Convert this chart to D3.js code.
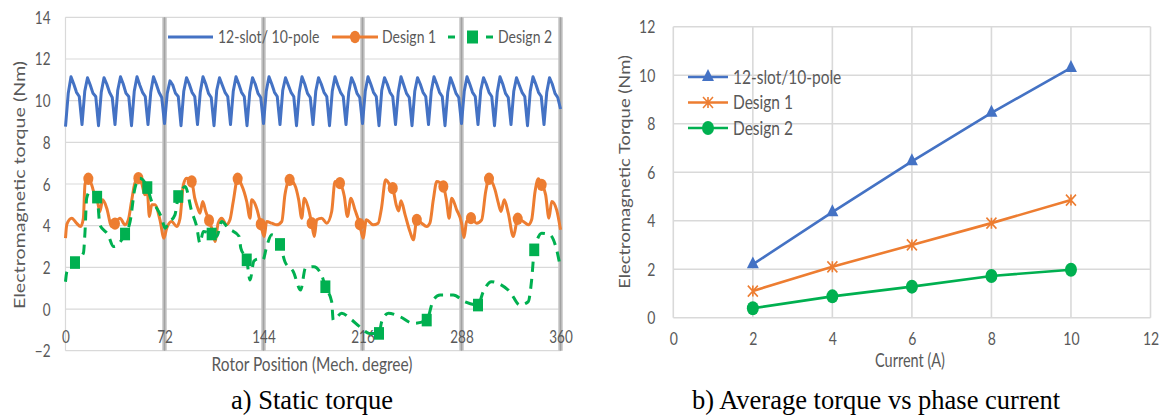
<!DOCTYPE html>
<html>
<head>
<meta charset="utf-8">
<script src="https://cdn.jsdelivr.net/npm/d3@7"></script>
<style>
  body { margin: 0; background: #fff; }
  svg { display: block; }
</style>
</head>
<body>
<svg id="chart" width="1165" height="415"></svg>
<script>
/**
 * DATA
 * */
// a) static torque, 12-slot/10-pole sampled every 2 mech. degrees
const positionStep = 2;
const baselineTorque = [
  8.75, 10.35, 11.15, 10.8, 10.4, 10.2,
  8.85, 10.45, 11.1, 10.75, 10.35, 10.2,
  8.8, 10.4, 11.1, 10.8, 10.4, 10.15,
  8.85, 10.5, 11.15, 10.8, 10.35, 10.2,
  8.8, 10.45, 11.15, 10.75, 10.4, 10.2,
  8.85, 10.4, 11.15, 10.8, 10.4, 10.15,
  8.9, 10.35, 10.95, 10.75, 10.35, 10.2,
  8.8, 10.45, 11.1, 10.8, 10.4, 10.2,
  8.85, 10.4, 11.15, 10.8, 10.35, 10.15,
  8.8, 10.5, 11.1, 10.75, 10.4, 10.2,
  8.85, 10.45, 11.15, 10.8, 10.4, 10.2,
  8.8, 10.4, 11.1, 10.8, 10.35, 10.15,
  8.9, 10.45, 11.15, 10.8, 10.4, 10.2,
  8.85, 10.5, 11.1, 10.75, 10.4, 10.2,
  8.8, 10.4, 11.15, 10.8, 10.35, 10.15,
  8.85, 10.45, 11.1, 10.8, 10.4, 10.2,
  8.8, 10.45, 11.15, 10.75, 10.4, 10.2,
  8.85, 10.4, 11.1, 10.8, 10.35, 10.15,
  8.9, 10.45, 11.15, 10.8, 10.4, 10.2,
  8.8, 10.5, 11.1, 10.8, 10.4, 10.2,
  8.85, 10.4, 11.15, 10.75, 10.35, 10.15,
  8.8, 10.45, 11.1, 10.8, 10.4, 10.2,
  8.85, 10.45, 11.15, 10.8, 10.4, 10.2,
  8.8, 10.4, 11.1, 10.75, 10.35, 10.15,
  8.9, 10.45, 11.15, 10.8, 10.4, 10.2,
  8.85, 10.5, 11.1, 10.8, 10.4, 10.2,
  8.8, 10.4, 11.15, 10.8, 10.35, 10.15,
  8.85, 10.45, 11.1, 10.75, 10.4, 10.2,
  8.8, 10.45, 11.15, 10.8, 10.4, 10.2,
  8.85, 10.4, 11.1, 10.8, 10.35, 10.15,
  9.6
];

// design 1 [degree, torque]
const design1Torque = [
  [0, 3.4], [1, 4.07], [4.5, 4.36], [8, 4.12], [11, 3.96], [13, 4.36], [14.2, 6.0], [16.6, 6.25], [19, 5.96], [21.5, 5.4], [23, 5.24], [25, 4.68], [27, 5.24], [30, 4.84], [33.6, 3.96], [36, 4.1],
  [39.6, 4.36], [43.3, 4.04], [45.7, 4.28], [48, 5.16], [50.5, 6.05], [53, 6.28], [55.4, 6.04], [57.8, 5.48], [59.5, 5.64], [61, 4.44], [62.7, 5.0], [65, 5.0], [68.7, 4.28], [71.6, 3.4],
  [73.6, 3.88], [77.2, 4.2], [80.9, 3.96], [83.3, 4.36], [85.7, 5.96], [88, 6.28], [91.8, 6.12], [94, 5.32], [95.8, 4.92], [97.8, 4.6], [99.8, 5.16], [102, 4.68], [104.4, 4.25], [107, 3.72], [108.7, 3.24],
  [111, 4.12], [113.6, 4.36], [117, 4.04], [119.6, 4.28], [122, 5.16], [125.2, 6.25], [128, 5.96], [131.8, 5.16], [134.2, 4.36], [135.4, 5.24], [139, 4.84], [142, 4.07], [144.5, 3.48],
  [146.3, 4.2], [150, 4.12], [153.6, 4.04], [157.3, 4.2], [159.6, 5.48], [163, 6.2], [166.7, 5.96], [169.6, 5.24], [171.8, 4.36], [173.7, 5.32], [176.6, 4.84], [179, 4.12], [181, 3.48],
  [182.7, 4.28], [186.3, 4.36], [190, 4.12], [193.6, 4.68], [196, 6.12], [199.6, 6.04], [202.8, 5.4], [205, 4.44], [207.6, 5.32], [210.5, 4.76], [214, 4.07], [216.4, 3.4],
  [218.8, 4.28], [223.7, 4.04], [227.4, 4.12], [229.8, 4.84], [232.8, 6.2], [236, 5.95], [238, 5.8], [240.5, 5.0], [242.3, 4.7], [244, 5.2], [247, 4.52], [250.5, 3.72], [253, 3.32],
  [255.5, 4.28], [259, 4.12], [262.7, 3.96], [265, 4.12], [267.5, 5.24], [270, 6.12], [274.8, 5.88], [277.2, 5.16], [279, 4.36], [280.9, 5.32], [284.5, 4.76], [288.1, 4.12], [289.8, 3.43],
  [291.7, 4.2], [294.9, 4.36], [299, 4.12], [302.7, 4.28], [305.6, 5.64], [308, 6.25], [312.4, 5.72], [314.8, 5.08], [316.7, 4.68], [319.1, 5.24], [322, 4.6], [325.7, 3.48],
  [328.9, 4.33], [333, 4.2], [336.6, 4.04], [339, 4.28], [341.5, 5.64], [343.9, 6.25], [346.3, 5.96], [349.2, 5.48], [351.6, 4.36], [353.6, 5.16], [357.2, 4.76], [360, 3.8]
];
const design1Markers = [
  [16.6, 6.25], [36, 4.1], [53, 6.28], [91.8, 6.12], [104.4, 4.25], [125.2, 6.25], [142, 4.07], [163, 6.2], [179, 4.12],
  [199.6, 6.04], [214, 4.07], [238, 5.8], [255.5, 4.28], [274.8, 5.88], [294.9, 4.36], [308, 6.25], [328.9, 4.33], [346.3, 5.96]
];

// design 2 [degree, torque]
const design2Torque = [
  [0, 1.31], [1, 1.79], [6.9, 2.23], [13, 2.68], [14.2, 3.72], [15.4, 5.32], [17.8, 5.64], [23, 5.37], [25, 4.04], [31, 3.56], [34.8, 3.0],
  [43.3, 3.6], [47, 4.2], [50.5, 5.8], [54, 6.28], [59.5, 5.83], [62.7, 5.16], [66.3, 4.84], [70, 4.36], [72.4, 3.88], [74.7, 4.12],
  [79.6, 4.52], [82, 5.4], [84.5, 5.72], [87, 5.88], [91.8, 4.68], [95.4, 3.96], [97.8, 3.16], [100.2, 3.72], [106.3, 3.6], [110, 3.48],
  [113.6, 4.2], [118.4, 3.88], [126.3, 3.48], [127.5, 2.92], [131.8, 2.36], [134.2, 1.39], [137, 2.3], [140, 2.4], [143.6, 2.36],
  [146.3, 3.0], [150, 3.56], [156, 3.1], [159.6, 2.27], [165.7, 1.79], [171, 0.91], [174.5, 1.96], [180.6, 2.03], [186.7, 1.55],
  [189, 1.07], [193.6, 0.35], [194.7, -0.53], [200.9, -0.2], [206.9, -0.45], [214, -0.85], [221, -1.17], [228, -1.17], [230, -0.6],
  [234.8, -0.2], [243.3, -0.37], [253, -0.69], [262.7, -0.53], [267.5, 0.43], [272.4, 0.67], [282, 0.67], [290.5, 0.35], [300, 0.19],
  [303.8, 0.83], [309.8, 1.31], [314.7, 1.23], [323.2, 0.83], [330.5, 0.19], [336.5, 0.35], [339, 1.39], [340.9, 2.84], [342.6, 3.24],
  [346.3, 3.64], [352.3, 3.56], [357.2, 2.84], [360, 1.96]
];
const design2Markers = [
  [6.9, 2.23], [23, 5.37], [43.3, 3.6], [59.5, 5.83], [82, 5.4], [106.3, 3.6], [131.8, 2.36],
  [156, 3.1], [189, 1.07], [228, -1.17], [262.7, -0.53], [300, 0.19], [340.9, 2.84]
];

const positionTicks = [0, 72, 144, 216, 288, 360];
const torqueTicks = [-2, 0, 2, 4, 6, 8, 10, 12, 14];

// b) average torque vs phase current
const currents = [2, 4, 6, 8, 10];
const avgBaseline = [2.2, 4.35, 6.45, 8.45, 10.3];
const avgDesign1 = [1.1, 2.1, 3.0, 3.9, 4.85];
const avgDesign2 = [0.39, 0.88, 1.28, 1.72, 1.98];
const currentTicks = [0, 2, 4, 6, 8, 10, 12];
const avgTicks = [0, 2, 4, 6, 8, 10, 12];

/**
 * CONSTANTS
 * */
const BLUE = "#4472c4", ORANGE = "#ed7d31", GREEN = "#00b050";
const TXT = "#595959", GRID = "#d9d9d9";
const FONT = "Lato, 'Open Sans', sans-serif";
const SY = 1.27; // the pictures are stretched vertically

const svg = d3.select("#chart");

// text helper: stretched like the source bitmap
function label(parent, x, y, str, o = {}) {
  return parent.append("text")
    .attr("transform", `translate(${x},${y}) scale(1,${o.sy || SY})${o.rotate ? ` rotate(${o.rotate})` : ""}`)
    .attr("dy", "0.35em")
    .attr("text-anchor", o.anchor || "middle")
    .attr("font-family", o.family || FONT)
    .attr("font-size", o.size || 14)
    .attr("fill", o.color || TXT)
    .text(str);
}

function styleAxis(g, dx, dy, size, anchor) {
  g.select(".domain").remove();
  g.selectAll("text")
    .attr("x", null).attr("y", null)
    .attr("dy", "0.35em")
    .attr("transform", `translate(${dx},${dy}) scale(1,${SY})`)
    .attr("text-anchor", anchor)
    .attr("font-family", FONT)
    .attr("font-size", size)
    .attr("fill", TXT);
}

/**
 * a) STATIC TORQUE
 * */
const xPos = d3.scaleLinear().domain([0, 360]).range([65.5, 560.5]);
const yTq = d3.scaleLinear().domain([-2, 14]).range([350.7, 17.3]);

const left = svg.append("g");

// horizontal gridlines
left.append("g").selectAll("line")
  .data(torqueTicks)
  .join("line")
  .attr("x1", xPos(0)).attr("x2", xPos(360))
  .attr("y1", d => yTq(d)).attr("y2", d => yTq(d))
  .attr("stroke", GRID).attr("stroke-width", 1.2);

// vertical axis line
left.append("line")
  .attr("x1", xPos(0)).attr("x2", xPos(0))
  .attr("y1", yTq(14)).attr("y2", yTq(-2))
  .attr("stroke", GRID).attr("stroke-width", 1.2);

// thick grey separators every 72 degrees
const sep = left.append("g").selectAll("g")
  .data(positionTicks.slice(1))
  .join("g");
sep.append("line")
  .attr("x1", d => xPos(d)).attr("x2", d => xPos(d))
  .attr("y1", yTq(14)).attr("y2", yTq(-2))
  .attr("stroke", "#c4c4c4").attr("stroke-width", 4.5);
sep.append("line")
  .attr("x1", d => xPos(d)).attr("x2", d => xPos(d))
  .attr("y1", yTq(14)).attr("y2", yTq(-2))
  .attr("stroke", "#a2a2a2").attr("stroke-width", 1.5);

// axes
const gyL = left.append("g")
  .attr("transform", `translate(${xPos(0)},0)`)
  .call(d3.axisLeft(yTq).tickValues(torqueTicks).tickSize(0));
styleAxis(gyL, -15, 0, 13.5, "end");

const gxL = left.append("g")
  .attr("transform", `translate(0,${yTq(0)})`)
  .call(d3.axisBottom(xPos).tickValues(positionTicks).tickSize(0));
styleAxis(gxL, 0, 28, 13.5, "middle");

label(left, 20, 185, "Electromagnetic torque (Nm)", { rotate: -90, size: 15.5 });
label(left, 312, 364, "Rotor Position (Mech. degree)", { size: 15.5 });

// series
const lineBase = d3.line()
  .x((d, i) => xPos(i * positionStep))
  .y(d => yTq(d));
const linePair = d3.line()
  .x(d => xPos(d[0]))
  .y(d => yTq(d[1]))
  .curve(d3.curveMonotoneX);

left.append("path")
  .datum(baselineTorque)
  .attr("d", lineBase)
  .attr("fill", "none").attr("stroke", BLUE).attr("stroke-width", 3)
  .attr("stroke-linejoin", "round");

left.append("path")
  .datum(design1Torque)
  .attr("d", linePair)
  .attr("fill", "none").attr("stroke", ORANGE).attr("stroke-width", 3)
  .attr("stroke-linejoin", "round");

left.append("g").selectAll("ellipse")
  .data(design1Markers)
  .join("ellipse")
  .attr("cx", d => xPos(d[0])).attr("cy", d => yTq(d[1]))
  .attr("rx", 5).attr("ry", 6.2)
  .attr("fill", ORANGE);

left.append("path")
  .datum(design2Torque)
  .attr("d", linePair)
  .attr("fill", "none").attr("stroke", GREEN).attr("stroke-width", 3)
  .attr("stroke-dasharray", "10,7");

left.append("g").selectAll("rect")
  .data(design2Markers)
  .join("rect")
  .attr("x", d => xPos(d[0]) - 5).attr("y", d => yTq(d[1]) - 6.3)
  .attr("width", 10).attr("height", 12.6)
  .attr("fill", GREEN);

// legend
const legL = left.append("g");
legL.append("line").attr("x1", 168).attr("x2", 213).attr("y1", 37).attr("y2", 37)
  .attr("stroke", BLUE).attr("stroke-width", 3);
label(legL, 218, 37, "12-slot/ 10-pole", { anchor: "start", size: 14 });
legL.append("line").attr("x1", 332).attr("x2", 378).attr("y1", 37).attr("y2", 37)
  .attr("stroke", ORANGE).attr("stroke-width", 3);
legL.append("ellipse").attr("cx", 355).attr("cy", 37).attr("rx", 5).attr("ry", 6.2).attr("fill", ORANGE);
label(legL, 382, 37, "Design 1", { anchor: "start", size: 14 });
legL.append("line").attr("x1", 448).attr("x2", 455).attr("y1", 37).attr("y2", 37)
  .attr("stroke", GREEN).attr("stroke-width", 3);
legL.append("line").attr("x1", 486).attr("x2", 493).attr("y1", 37).attr("y2", 37)
  .attr("stroke", GREEN).attr("stroke-width", 3);
legL.append("rect").attr("x", 467).attr("y", 30.5).attr("width", 11).attr("height", 13).attr("fill", GREEN);
label(legL, 498, 37, "Design 2", { anchor: "start", size: 14 });

/**
 * b) AVERAGE TORQUE VS PHASE CURRENT
 * */
const xCur = d3.scaleLinear().domain([0, 12]).range([673.3, 1150.5]);
const yAvg = d3.scaleLinear().domain([0, 12]).range([317.7, 26.7]);

const right = svg.append("g");

right.append("g").selectAll("line")
  .data(avgTicks)
  .join("line")
  .attr("x1", xCur(0)).attr("x2", xCur(12))
  .attr("y1", d => yAvg(d)).attr("y2", d => yAvg(d))
  .attr("stroke", GRID).attr("stroke-width", 1.6);
right.append("g").selectAll("line")
  .data(currentTicks)
  .join("line")
  .attr("x1", d => xCur(d)).attr("x2", d => xCur(d))
  .attr("y1", yAvg(0)).attr("y2", yAvg(12))
  .attr("stroke", GRID).attr("stroke-width", 1.6);

const gyR = right.append("g")
  .attr("transform", `translate(${xCur(0)},0)`)
  .call(d3.axisLeft(yAvg).tickValues(avgTicks).tickSize(0));
styleAxis(gyR, -18, 0, 14, "end");

const gxR = right.append("g")
  .attr("transform", `translate(0,${yAvg(0)})`)
  .call(d3.axisBottom(xCur).tickValues(currentTicks).tickSize(0));
styleAxis(gxR, 0, 21, 14, "middle");

label(right, 625, 172, "Electromagnetic Torque (Nm)", { rotate: -90, size: 14.5 });
label(right, 910, 361, "Current (A)", { size: 14.5 });

const avgSeries = [
  { name: "12-slot/10-pole", values: avgBaseline, color: BLUE, marker: "triangle" },
  { name: "Design 1", values: avgDesign1, color: ORANGE, marker: "star" },
  { name: "Design 2", values: avgDesign2, color: GREEN, marker: "circle" }
];

const lineAvg = d3.line()
  .x((d, i) => xCur(currents[i]))
  .y(d => yAvg(d));

function drawMarker(g, type, x, y, color) {
  if (type === "triangle") {
    g.append("path")
      .attr("d", d3.symbol(d3.symbolTriangle, 62)())
      .attr("transform", `translate(${x},${y}) scale(1,1.15)`)
      .attr("fill", color);
  } else if (type === "star") {
    const r = 5;
    g.append("path")
      .attr("d", `M0,${-r}L0,${r}M${-r},${-r}L${r},${r}M${-r},${r}L${r},${-r}`)
      .attr("transform", `translate(${x},${y}) scale(1,1.1)`)
      .attr("stroke", color).attr("stroke-width", 1.6).attr("fill", "none");
  } else {
    g.append("ellipse")
      .attr("cx", x).attr("cy", y).attr("rx", 6).attr("ry", 7)
      .attr("fill", color);
  }
}

avgSeries.forEach((s, k) => {
  right.append("path")
    .datum(s.values)
    .attr("d", lineAvg)
    .attr("fill", "none").attr("stroke", s.color).attr("stroke-width", 2.6);
  const mg = right.append("g");
  s.values.forEach((v, i) => drawMarker(mg, s.marker, xCur(currents[i]), yAvg(v), s.color));

  // legend
  const ly = 77 + k * 25.5;
  right.append("line").attr("x1", 688).attr("x2", 728).attr("y1", ly).attr("y2", ly)
    .attr("stroke", s.color).attr("stroke-width", 2.6);
  drawMarker(right, s.marker, 708, ly, s.color);
  label(right, 733, ly, s.name, { anchor: "start", size: 15.5 });
});

/**
 * CAPTIONS
 * */
label(svg, 312, 400, "a) Static torque", { family: "'Liberation Serif', 'Times New Roman', serif", size: 26.5, color: "#000", sy: 1 });
label(svg, 876, 400, "b) Average torque vs phase current", { family: "'Liberation Serif', 'Times New Roman', serif", size: 26.5, color: "#000", sy: 1 });
</script>
</body>
</html>
